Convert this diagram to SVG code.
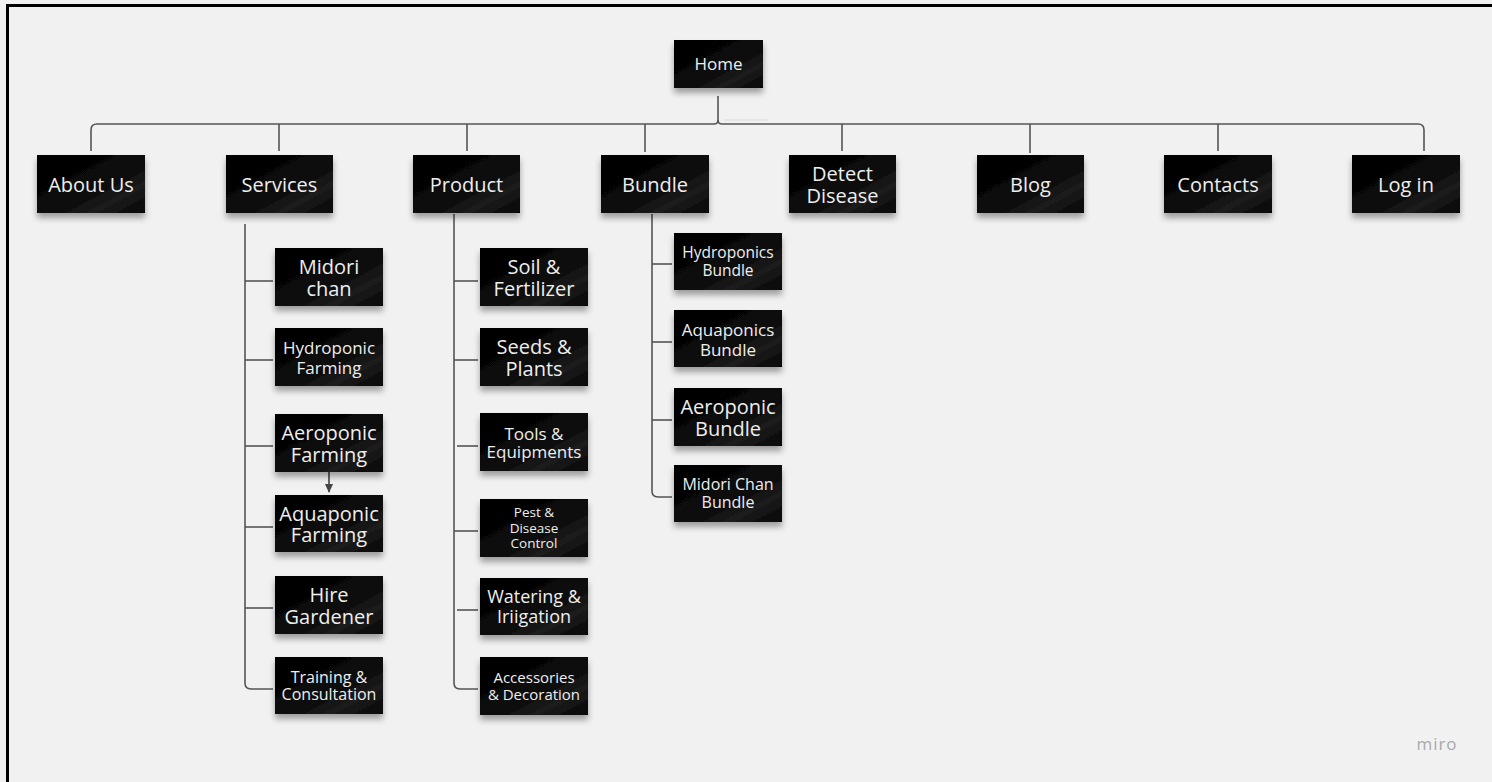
<svg xmlns="http://www.w3.org/2000/svg" width="1492" height="782" viewBox="0 0 1492 782">
<defs>
<filter id="sh" x="-20%" y="-20%" width="140%" height="160%">
<feDropShadow dx="0" dy="5" stdDeviation="3" flood-color="#000" flood-opacity="0.35"/>
</filter>
<linearGradient id="gl" x1="0" y1="0" x2="1" y2="1">
<stop offset="0" stop-color="#000"/>
<stop offset="0.55" stop-color="#0a0a0a"/>
<stop offset="0.75" stop-color="#1c1c1c"/>
<stop offset="1" stop-color="#050505"/>
</linearGradient>
<marker id="ah" markerWidth="10" markerHeight="10" refX="8" refY="5" orient="auto" markerUnits="userSpaceOnUse">
<path d="M0,1 L9,5 L0,9 Z" fill="#444"/>
</marker>
</defs>
<style>
.n rect{fill:url(#gl);filter:url(#sh)}
.n text{font-family:"Open Sans","Noto Sans","Liberation Sans",sans-serif;fill:#eeeeee;text-anchor:middle;dominant-baseline:central}
.c path,.c line{fill:none;stroke:#555;stroke-width:1.6}
</style>
<rect width="1492" height="782" fill="#f1f1f1"/>
<path d="M7.5 782 V5.5 H1492" fill="none" stroke="#000" stroke-width="3"/>
<g class="c">
<path d="M718 96 V120 Q718 124 714 124 H97 Q91 124 91 130 V151"/>
<path d="M718 120 Q718 124 722 124 H1418 Q1424 124 1424 130 V151"/>
<line x1="724" y1="120" x2="768" y2="120" style="stroke:#dcdcdc;stroke-width:1.2"/>
<line x1="279" y1="124" x2="279" y2="151"/>
<line x1="467" y1="124" x2="467" y2="151"/>
<line x1="645" y1="124" x2="645" y2="152"/>
<line x1="842" y1="124" x2="842" y2="151"/>
<line x1="1030" y1="124" x2="1030" y2="153"/>
<line x1="1218" y1="124" x2="1218" y2="151"/>
<path d="M245 224 V683 Q245 689 251 689 H273"/>
<line x1="245" y1="281" x2="273" y2="281"/>
<line x1="245" y1="360" x2="273" y2="360"/>
<line x1="245" y1="446" x2="273" y2="446"/>
<line x1="245" y1="527" x2="273" y2="527"/>
<line x1="245" y1="608" x2="273" y2="608"/>
<path d="M454 214 V683 Q454 689 460 689 H478"/>
<line x1="454" y1="281" x2="478" y2="281"/>
<line x1="454" y1="360" x2="478" y2="360"/>
<line x1="457" y1="446" x2="478" y2="446"/>
<line x1="454" y1="531" x2="478" y2="531"/>
<line x1="457" y1="610" x2="478" y2="610"/>
<path d="M652 214 V491 Q652 497 658 497 H672"/>
<line x1="652" y1="264" x2="672" y2="264"/>
<line x1="652" y1="342" x2="672" y2="342"/>
<line x1="652" y1="420" x2="672" y2="420"/>
<line x1="329" y1="472" x2="329" y2="492" marker-end="url(#ah)" style="stroke:#444"/>
</g>
<g id="home" class="n"><rect x="674" y="40" width="89" height="48"/><text x="718.5" y="63" font-size="17">Home</text></g>
<g id="about" class="n"><rect x="37" y="155" width="108" height="58"/><text x="91" y="184" font-size="20">About Us</text></g>
<g id="services" class="n"><rect x="226" y="155" width="107" height="58"/><text x="279.5" y="184" font-size="20">Services</text></g>
<g id="product" class="n"><rect x="413" y="155" width="107" height="58"/><text x="466.5" y="184" font-size="20">Product</text></g>
<g id="bundle" class="n"><rect x="601" y="155" width="108" height="58"/><text x="655" y="184" font-size="20">Bundle</text></g>
<g id="detect" class="n"><rect x="789" y="155" width="107" height="58"/><text font-size="20"><tspan x="842.5" y="173">Detect</tspan><tspan x="842.5" y="195">Disease</tspan></text></g>
<g id="blog" class="n"><rect x="977" y="155" width="107" height="58"/><text x="1030.5" y="184" font-size="20">Blog</text></g>
<g id="contacts" class="n"><rect x="1164" y="155" width="108" height="58"/><text x="1218" y="184" font-size="20">Contacts</text></g>
<g id="login" class="n"><rect x="1352" y="155" width="108" height="58"/><text x="1406" y="184" font-size="20">Log in</text></g>

<g id="midori" class="n"><rect x="275" y="248" width="108" height="58"/><text font-size="20"><tspan x="329" y="266">Midori</tspan><tspan x="329" y="288">chan</tspan></text></g>
<g id="hydro" class="n"><rect x="275" y="328" width="108" height="58"/><text font-size="17"><tspan x="329" y="347">Hydroponic</tspan><tspan x="329" y="367">Farming</tspan></text></g>
<g id="aero" class="n"><rect x="275" y="414" width="108" height="58"/><text font-size="20"><tspan x="329" y="432">Aeroponic</tspan><tspan x="329" y="454">Farming</tspan></text></g>
<g id="aqua" class="n"><rect x="275" y="495" width="108" height="57"/><text font-size="20"><tspan x="329" y="513">Aquaponic</tspan><tspan x="329" y="534">Farming</tspan></text></g>
<g id="hire" class="n"><rect x="275" y="576" width="108" height="58"/><text font-size="20"><tspan x="329" y="594">Hire</tspan><tspan x="329" y="616">Gardener</tspan></text></g>
<g id="training" class="n"><rect x="275" y="657" width="108" height="57"/><text font-size="16"><tspan x="329" y="677">Training &amp;</tspan><tspan x="329" y="694">Consultation</tspan></text></g>

<g id="soil" class="n"><rect x="480" y="248" width="108" height="58"/><text font-size="20"><tspan x="534" y="266">Soil &amp;</tspan><tspan x="534" y="288">Fertilizer</tspan></text></g>
<g id="seeds" class="n"><rect x="480" y="328" width="108" height="58"/><text font-size="20"><tspan x="534" y="346">Seeds &amp;</tspan><tspan x="534" y="368">Plants</tspan></text></g>
<g id="tools" class="n"><rect x="480" y="413" width="108" height="58"/><text font-size="17"><tspan x="534" y="433">Tools &amp;</tspan><tspan x="534" y="451">Equipments</tspan></text></g>
<g id="pest" class="n"><rect x="480" y="499" width="108" height="58"/><text font-size="13.5"><tspan x="534" y="512">Pest &amp;</tspan><tspan x="534" y="528">Disease</tspan><tspan x="534" y="543">Control</tspan></text></g>
<g id="water" class="n"><rect x="480" y="578" width="108" height="57"/><text font-size="18"><tspan x="534" y="596">Watering &amp;</tspan><tspan x="534" y="616">Iriigation</tspan></text></g>
<g id="access" class="n"><rect x="480" y="657" width="108" height="58"/><text font-size="15"><tspan x="534" y="677">Accessories</tspan><tspan x="534" y="694">&amp; Decoration</tspan></text></g>

<g id="hbundle" class="n"><rect x="674" y="233" width="108" height="57"/><text font-size="15.5"><tspan x="728" y="252">Hydroponics</tspan><tspan x="728" y="270">Bundle</tspan></text></g>
<g id="aqbundle" class="n"><rect x="674" y="310" width="108" height="57"/><text font-size="17"><tspan x="728" y="329">Aquaponics</tspan><tspan x="728" y="349">Bundle</tspan></text></g>
<g id="aebundle" class="n"><rect x="674" y="388" width="108" height="58"/><text font-size="20"><tspan x="728" y="406">Aeroponic</tspan><tspan x="728" y="428">Bundle</tspan></text></g>
<g id="mbundle" class="n"><rect x="674" y="465" width="108" height="57"/><text font-size="16"><tspan x="728" y="484">Midori Chan</tspan><tspan x="728" y="502">Bundle</tspan></text></g>

<text x="1437" y="743" font-family="Open Sans,Noto Sans,Liberation Sans,sans-serif" font-size="17" fill="#a9a9a9" text-anchor="middle" dominant-baseline="central" letter-spacing="1">miro</text>
</svg>
